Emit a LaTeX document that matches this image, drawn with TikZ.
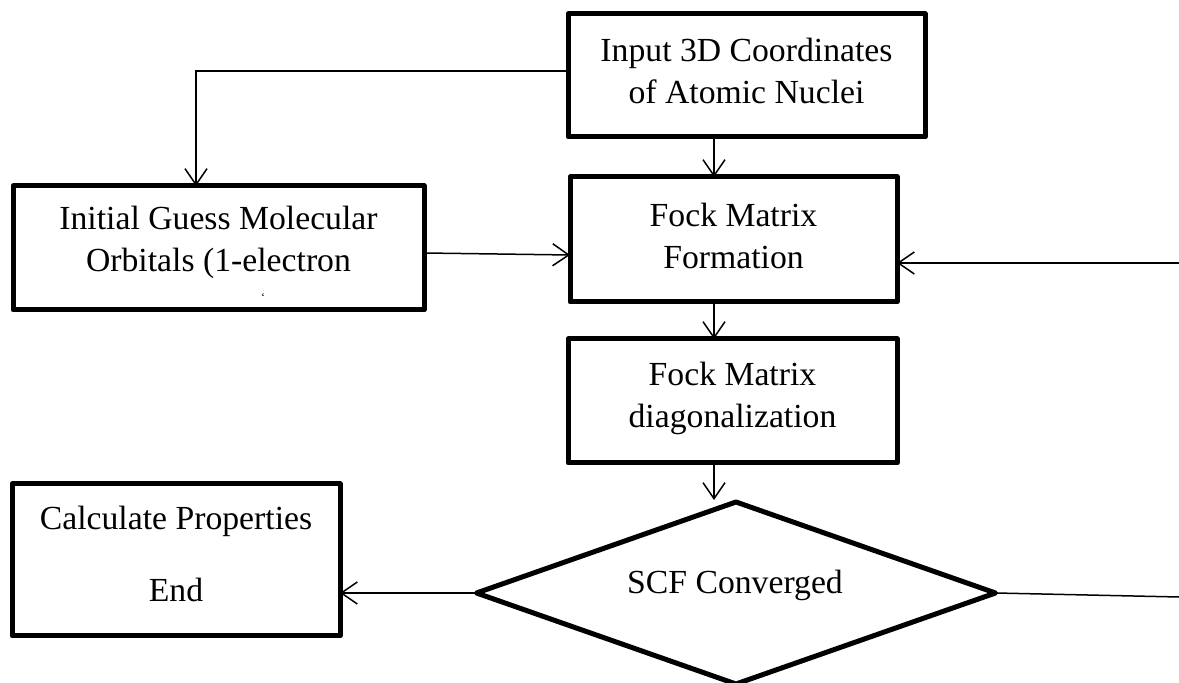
\documentclass[tikz,border=0pt]{standalone}
\usepackage{fontspec}
\setmainfont{Liberation Serif}
\usetikzlibrary{arrows.meta,shapes.geometric}
\begin{document}
\begin{tikzpicture}[x=0.5pt,y=-0.5pt,
  box/.style={draw,line width=2.5pt,line join=round,rectangle,inner sep=0pt,outer sep=0pt},
  txt/.style={inner sep=0pt,align=center,font=\fontsize{16.85pt}{21pt}\selectfont},
  conn/.style={line width=0.75pt},
  arr/.style={conn,-{Straight Barb[length=8pt,width=11pt,line width=0.75pt]}}]
\useasboundingbox[fill=white] (0,0) rectangle (1179,683);
% boxes
\node[box,minimum width=178.5pt,minimum height=61.5pt] (top) at (746.5,75.5) {};
\node[txt] (toptxt) at (746.5,71) {Input 3D Coordinates\\of Atomic Nuclei};
\node[box,minimum width=205.5pt,minimum height=62pt] (init) at (218.5,248) {};
\node[txt] (inittxt) at (218.5,242) {Initial Guess Molecular\\Orbitals (1-electron};
\node[inner sep=0pt,font=\fontsize{6pt}{6pt}\selectfont] (speck) at (263,298) {`};
\node[box,minimum width=163.5pt,minimum height=62.5pt] (fock) at (733.5,239.5) {};
\node[txt] (focktxt) at (733.5,236) {Fock Matrix\\Formation};
\node[box,minimum width=164.5pt,minimum height=62pt] (diag) at (732.5,401) {};
\node[txt] (diagtxt) at (732.5,398) {Fock Matrix\\diagonalization};
\node[box,minimum width=164pt,minimum height=76pt] (calc) at (176,560) {};
\node[txt] (calctxt) at (176,554) {Calculate Properties\\[15pt]End};
\node[draw,diamond,line width=2.5pt,line join=round,inner sep=0pt,outer sep=0pt,
  minimum width=259.5pt,minimum height=91pt] (scf) at (736,593) {};
\node[txt] (scftxt) at (735,585) {SCF Converged};
% helper coordinates
\coordinate (k1) at (196,71);
\coordinate (col) at (714,0);
\coordinate (a1) at (0,253);
\coordinate (a2) at (0,255);
\coordinate (r1) at (1179,263);
\coordinate (r2) at (1179,597);
\coordinate (d1) at (0,500);
% connectors
\draw[arr] (top.west |- k1) -- (k1) -- (k1 |- init.north);
\draw[arr] (top.south -| col) -- (fock.north -| col);
\draw[arr] (init.east |- a1) -- (fock.west |- a2);
\draw[arr] (r1) -- (r1 -| fock.east);
\draw[arr] (fock.south -| col) -- (diag.north -| col);
\draw[arr] (diag.south -| col) -- (d1 -| col);
\draw[conn] (scf.east) -- (r2);
\draw[arr] (scf.west) -- (scf.west -| calc.east);
\end{tikzpicture}
\end{document}
